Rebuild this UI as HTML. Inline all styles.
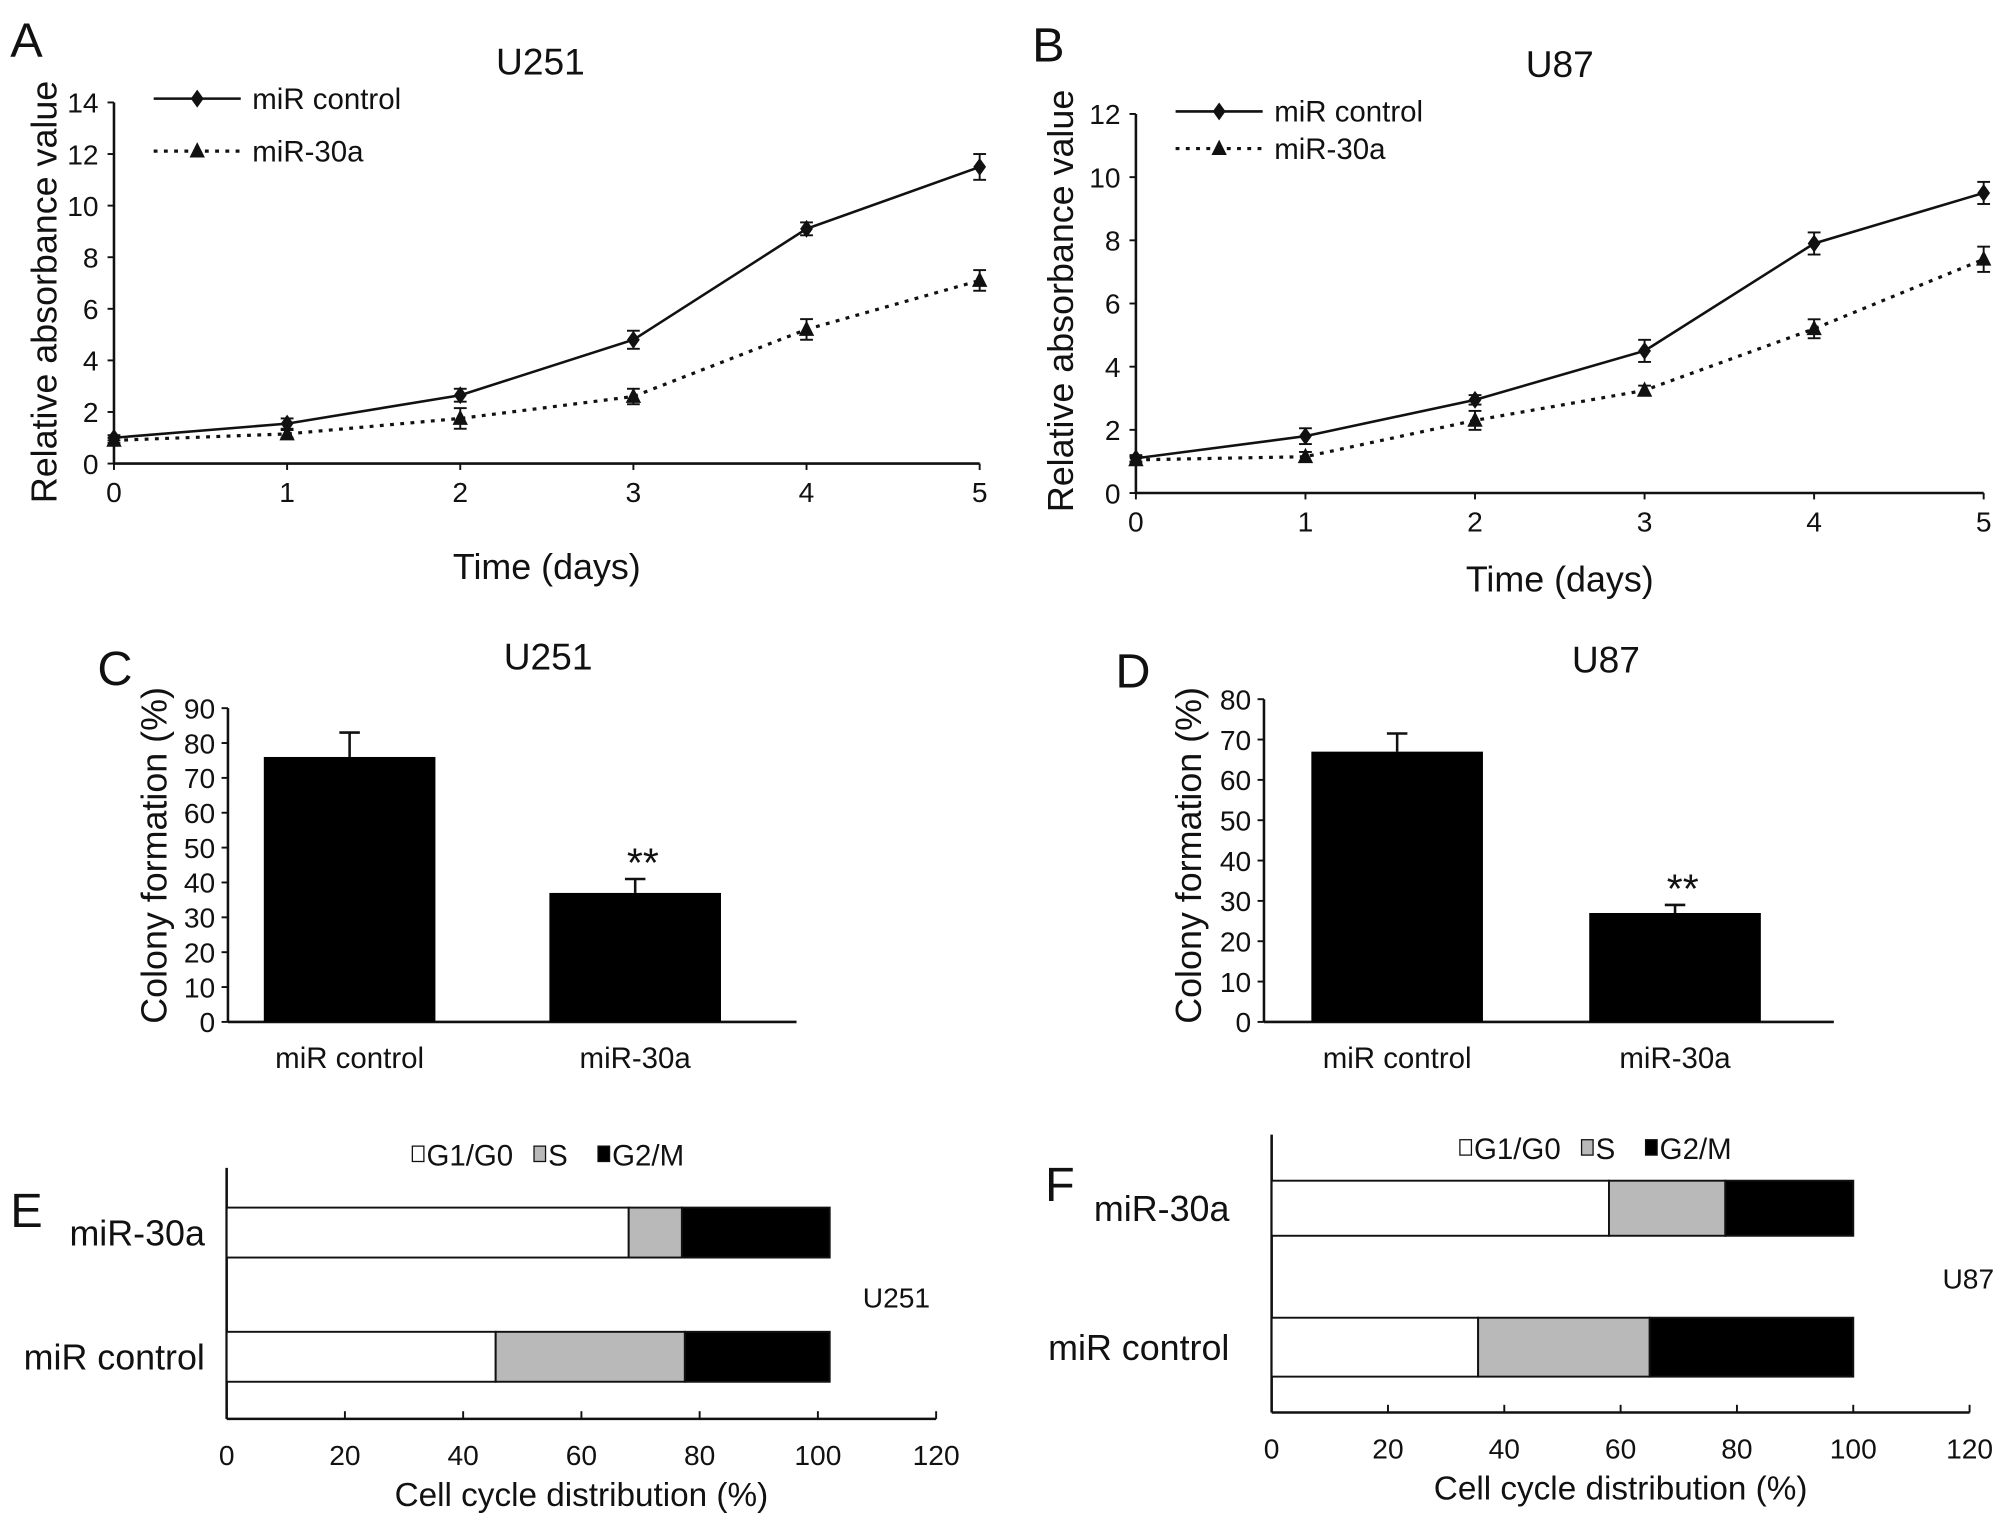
<!DOCTYPE html>
<html><head><meta charset="utf-8"><style>html,body{margin:0;padding:0;background:#fff}svg{display:block}text{font-family:"Liberation Sans",sans-serif;fill:#111}</style></head>
<body>
<svg id="s" width="2008" height="1528" viewBox="0 0 1568 1193.2" preserveAspectRatio="none"></svg>
<script>
const days=[0,1,2,3,4,5];
const aCtrl=[1.0,1.55,2.65,4.8,9.1,11.5];
const aCtrlErr=[0.1,0.2,0.25,0.35,0.25,0.5];
const aMir=[0.9,1.15,1.75,2.6,5.2,7.1];
const aMirErr=[0.1,0.15,0.4,0.3,0.4,0.4];
const bCtrl=[1.1,1.8,2.95,4.5,7.9,9.5];
const bCtrlErr=[0.1,0.25,0.15,0.35,0.35,0.35];
const bMir=[1.05,1.15,2.3,3.25,5.2,7.4];
const bMirErr=[0.1,0.15,0.3,0.15,0.3,0.4];
const barCats=["miR control","miR-30a"];
const cVals=[76,37];
const cErr=[7,4];
const dVals=[67,27];
const dErr=[4.5,2];
const phases=["G1/G0","S","G2/M"];
const eRows=["miR-30a","miR control"];
const eVals=[[68,9,25],[45.5,32,24.5]];
const fVals=[[58,20,22],[35.5,29.5,35]];
const aTicks=[0,2,4,6,8,10,12,14];
const bTicks=[0,2,4,6,8,10,12];
const cTicks=[0,10,20,30,40,50,60,70,80,90];
const dTicks=[0,10,20,30,40,50,60,70,80];
const hTicks=[0,20,40,60,80,100,120];

const S=document.getElementById('s');const NS='http://www.w3.org/2000/svg';
function el(t,a,p){const e=document.createElementNS(NS,t);for(const k in a)e.setAttribute(k,a[k]);(p||S).appendChild(e);return e;}
function tx(x,y,s,fs,anc,name,rot){const e=el('text',{x:x,y:y,'font-size':fs,'text-anchor':anc||'middle'});if(rot)e.setAttribute('transform','rotate(-90 '+x+' '+y+')');e.textContent=s;


return e;}
function ln(x1,y1,x2,y2,w,name,dash){const e=el('line',{x1:x1,y1:y1,x2:x2,y2:y2,stroke:'#111','stroke-width':w||2});if(dash)e.setAttribute('stroke-dasharray',dash);


return e;}
function diamond(x,y,name){const e=el('polygon',{points:`${x},${y-7} ${x+5},${y} ${x},${y+7} ${x-5},${y}`,fill:'#111'});

}
function tri(x,y,name){const e=el('polygon',{points:`${x},${y-7} ${x+6},${y+5} ${x-6},${y+5}`,fill:'#111'});

}

function lineChart(o){
  const X=i=>o.x0+(o.x1-o.x0)*i/5, Y=v=>o.y0-(o.y0-o.yTop)*v/o.ymax;
  ln(o.x0,o.yTop,o.x0,o.y0,2,'y-axis');ln(o.x0,o.y0,o.x1,o.y0,2,'x-axis');
  o.ticks.forEach(t=>{ln(o.x0-5,Y(t),o.x0,Y(t),1.5,'y-tick');tx(o.x0-12,Y(t)+8,t,22,'end','y-tick-label');});
  days.forEach(d=>{ln(X(d),o.y0,X(d),o.y0+5,1.5,'x-tick');tx(X(d),o.y0+30,d,22,'middle','x-tick-label');});
  [[o.c,o.ce,null,diamond,'control'],[o.m,o.me,'3 5',tri,'mir30a']].forEach(([v,er,dash,mk,nm])=>{
    const p=el('polyline',{points:v.map((y,i)=>X(i)+','+Y(y)).join(' '),fill:'none',stroke:'#111','stroke-width':dash?2.5:2,'stroke-dasharray':dash||'none'});
    
    
    v.forEach((y,i)=>{ln(X(i),Y(y+er[i]),X(i),Y(y-er[i]),1.5,'error-bar');ln(X(i)-5,Y(y+er[i]),X(i)+5,Y(y+er[i]),1.5,'error-cap');ln(X(i)-5,Y(y-er[i]),X(i)+5,Y(y-er[i]),1.5,'error-cap');mk(X(i),Y(y),nm+'-point');});
  });
  ln(o.lx,o.ly1,o.lx+68,o.ly1,2,'legend-line-control');diamond(o.lx+34,o.ly1,'legend-marker-control');tx(o.lx+77,o.ly1+8,'miR control',23,'start','legend-label-control');
  ln(o.lx,o.ly2,o.lx+68,o.ly2,2.5,'legend-line-mir30a','3 5');tri(o.lx+34,o.ly2,'legend-marker-mir30a');tx(o.lx+77,o.ly2+8,'miR-30a',23,'start','legend-label-mir30a');
  tx(o.tx,o.ty,o.title,29,'middle','chart-title');tx(o.px,o.py,o.panel,38,'start','panel-label');
  tx(o.ylx,o.yly,'Relative absorbance value',28,'middle','y-axis-title',true);
  tx((o.x0+o.x1)/2,o.xty,'Time (days)',28,'middle','x-axis-title');
}
lineChart({x0:89,x1:765,y0:362,yTop:80,ymax:14,ticks:aTicks,c:aCtrl,ce:aCtrlErr,m:aMir,me:aMirErr,lx:120,ly1:77,ly2:118,tx:422,ty:58,title:'U251',px:8,py:44,panel:'A',ylx:44,yly:228,xty:452});
lineChart({x0:887,x1:1549,y0:385,yTop:89,ymax:12,ticks:bTicks,c:bCtrl,ce:bCtrlErr,m:bMir,me:bMirErr,lx:918,ly1:87,ly2:116,tx:1218,ty:60,title:'U87',px:806,py:48,panel:'B',ylx:838,yly:235,xty:462});

function barChart(o){
  const Y=v=>o.y0-(o.y0-o.yTop)*v/o.ymax;
  ln(o.x0,o.yTop,o.x0,o.y0,2,'y-axis');ln(o.x0,o.y0,o.x1,o.y0,2,'x-axis');
  o.ticks.forEach(t=>{ln(o.x0-5,Y(t),o.x0,Y(t),1.5,'y-tick');tx(o.x0-10,Y(t)+8,t,22,'end','y-tick-label');});
  o.vals.forEach((v,i)=>{const bx=o.bx[i];
    const r=el('rect',{x:bx,y:Y(v),width:134,height:o.y0-Y(v),fill:'#000'});
    
    
    ln(bx+67,Y(v),bx+67,Y(v+o.err[i]),2,'error-bar');ln(bx+59,Y(v+o.err[i]),bx+75,Y(v+o.err[i]),2,'error-cap');
    tx(bx+67,o.y0+36,barCats[i],23,'middle','x-category-label');
  });
  const b1=o.bx[1]+67;tx(b1+6,Y(o.vals[1]+o.err[1])-2,'**',32,'middle','significance-marker');
  tx(o.tx,o.ty,o.title,29,'middle','chart-title');tx(o.px,o.py,o.panel,38,'start','panel-label');
  tx(o.ylx,o.yly,'Colony formation (%)',28,'middle','y-axis-title',true);
}
barChart({x0:178,x1:622,y0:798,yTop:553,ymax:90,ticks:cTicks,vals:cVals,err:cErr,bx:[206,429],tx:428,ty:523,title:'U251',px:76,py:535,panel:'C',ylx:130,yly:668});
barChart({x0:987,x1:1432,y0:798,yTop:546,ymax:80,ticks:dTicks,vals:dVals,err:dErr,bx:[1024,1241],tx:1254,ty:525,title:'U87',px:871,py:537,panel:'D',ylx:938,yly:668});

const fills=['#fff','#b9b9b9','#000'];
function stackChart(o){
  const X=v=>o.x0+(o.x1-o.x0)*v/120;
  ln(o.x0,o.yTop,o.x0,o.y0,2,'y-axis');ln(o.x0,o.y0,o.x1,o.y0,2,'x-axis');
  hTicks.forEach(t=>{ln(X(t),o.y0-6,X(t),o.y0,1.5,'x-tick');tx(X(t),o.y0+36,t,22,'middle','x-tick-label');});
  o.vals.forEach((row,r)=>{let acc=0;const [ya,yb]=o.rows[r];
    row.forEach((v,k)=>{const re=el('rect',{x:X(acc),y:ya,width:X(acc+v)-X(acc),height:yb-ya,fill:fills[k],stroke:'#111','stroke-width':1.5});
      
      acc+=v;});
    tx(o.lblx,(ya+yb)/2+10,eRows[r],28,'end','y-category-label');
  });
  let lx=o.legx;const adv=[95,50,0];
  phases.forEach((p,k)=>{const r=el('rect',{x:lx,y:o.legy-8,width:9,height:12,fill:fills[k],stroke:'#111','stroke-width':1});
    
    
    tx(lx+11,o.legy+7,p,23,'start','legend-label');lx+=adv[k];});
  tx(o.tx,o.ty,o.title,22,'middle','cell-line-label');tx(o.px,o.py,o.panel,38,'start','panel-label');
  tx((o.x0+o.x1)/2,o.y0+68,'Cell cycle distribution (%)',26,'middle','x-axis-title');
}
stackChart({x0:177,x1:731,y0:1108,yTop:912,vals:eVals,rows:[[943,982],[1040,1079]],lblx:160,legx:322,legy:903,tx:700,ty:1021,title:'U251',px:8,py:958,panel:'E'});
stackChart({x0:993,x1:1538,y0:1103,yTop:886,vals:fVals,rows:[[922,965],[1029,1075]],lblx:960,legx:1140,legy:898,tx:1537,ty:1006,title:'U87',px:816,py:938,panel:'F'});
</script>
</body></html>
